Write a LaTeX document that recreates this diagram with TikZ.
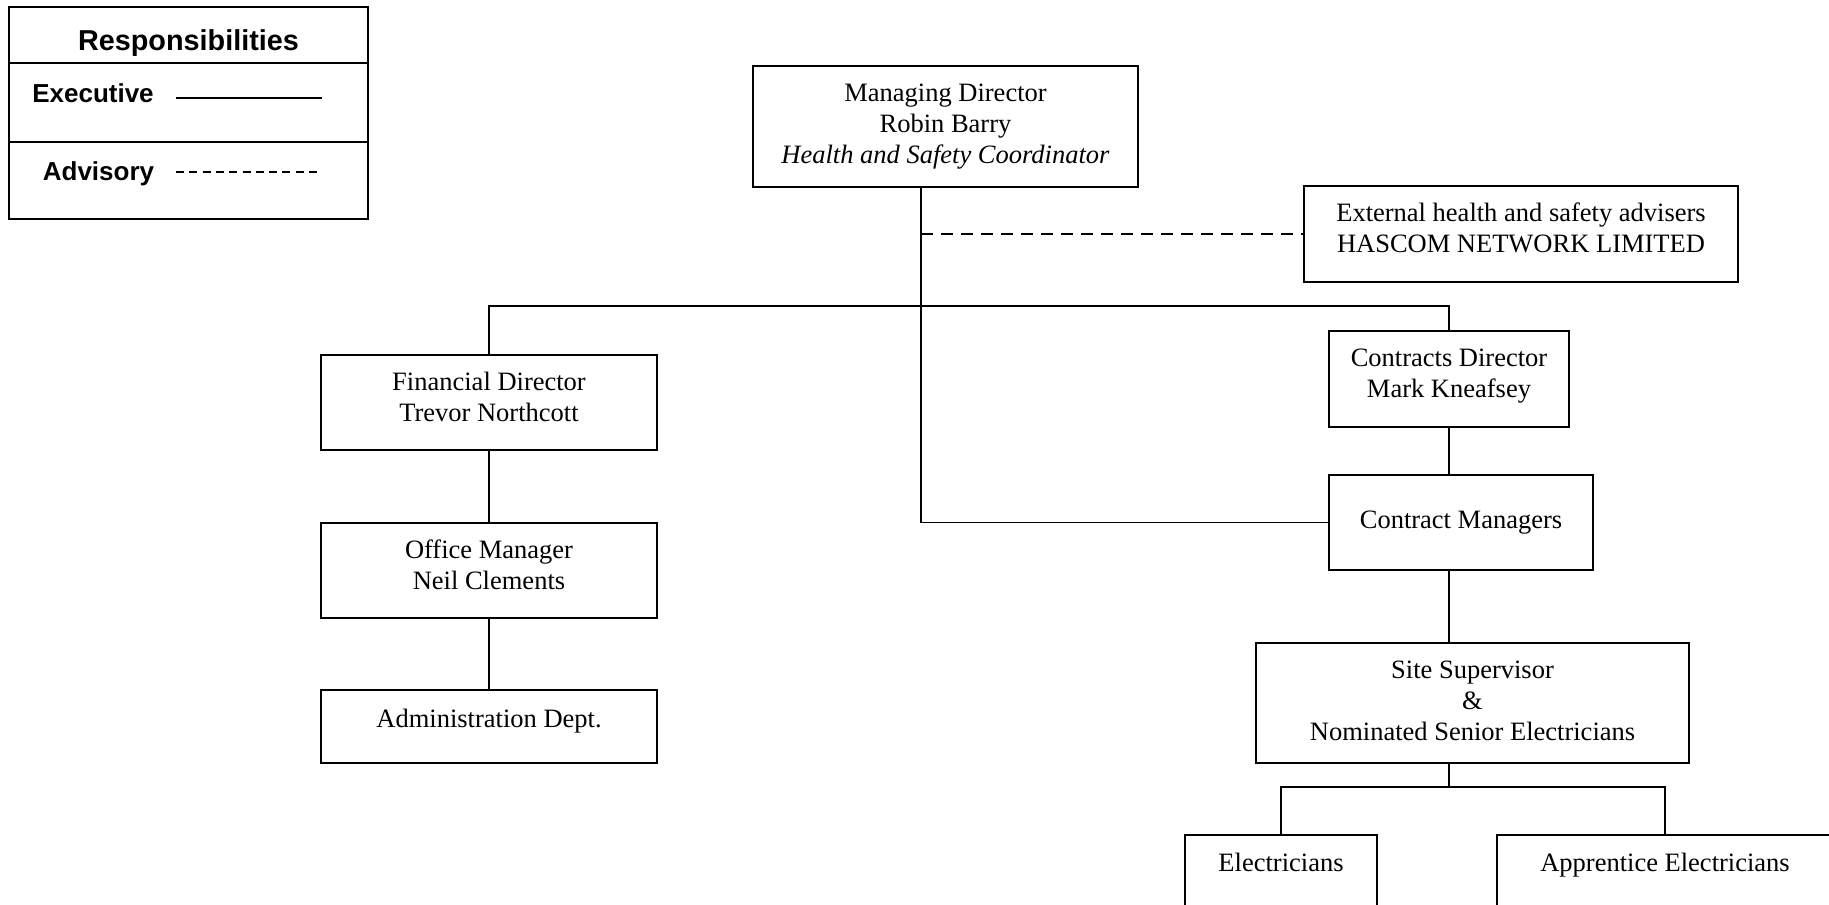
\documentclass[tikz,border=0pt]{standalone}
\usepackage{fontspec}
\setmainfont{Liberation Serif}
\newfontfamily\legendfont{Liberation Sans}
\usetikzlibrary{positioning}

\begin{document}
\begin{tikzpicture}[x=1pt, y=-1pt, line width=1.6pt,
    post/.style={draw, align=center, inner sep=0pt, font=\fontsize{26.5}{31}\selectfont},
    key/.style={anchor=base, font=\legendfont\bfseries\fontsize{26}{31}\selectfont},
    advisory/.style={dash pattern=on 12pt off 8pt}]
    \useasboundingbox (0,0) rectangle (1829,905);
    \clip (0,0) rectangle (1829,905);

    % Legend
    \draw (9,7) rectangle (368,219);
    \draw (9,63) -- (368,63);
    \draw (9,142) -- (368,142);
    \node[key, font=\legendfont\bfseries\fontsize{28.8}{34}\selectfont] (resp) at (188.5,50) {Responsibilities};
    \node[key] (exec) at (93,102) {Executive};
    \node[key] (adv) at (98.5,180) {Advisory};
    \draw (176,98) -- (322,98);
    \draw[dash pattern=on 8pt off 5.3pt] (176,172) -- (322,172);

    % Directors
    \node[post, minimum width=385pt, text height=97.5pt, text depth=23.5pt] (md) at (945.5,126.5)
      {Managing Director\\Robin Barry\\\textit{Health and Safety Coordinator}};
    \node[post, minimum width=434pt, text height=66.5pt, text depth=29.5pt] (ext) at (1521,234)
      {External health and safety advisers\\HASCOM NETWORK LIMITED};
    \node[post, minimum width=336pt, text height=66pt, text depth=29pt] (fd) at (489,402.5)
      {Financial Director\\Trevor Northcott};
    \node[post, minimum width=240pt, text height=66pt, text depth=30pt] (cd) at (1449,379)
      {Contracts Director\\Mark Kneafsey};

    % Office side
    \node[post, minimum width=336pt, text height=66pt, text depth=29pt] (om) at (489,570.5)
      {Office Manager\\Neil Clements};
    \node[post, minimum width=336pt, text height=37pt, text depth=36pt] (adm) at (489,726.5)
      {Administration Dept.};

    % Contracts side
    \node[post, minimum width=264pt, text height=53.5pt, text depth=41.5pt] (cm) at (1461,522.5)
      {Contract Managers};
    \node[post, minimum width=433pt, text height=97.5pt, text depth=22.5pt] (ss) at (1472.5,703)
      {Site Supervisor\\\&\\Nominated Senior Electricians};
    \foreach \n/\x/\w/\t in {el/1281/192/Electricians, ap/1665/336/Apprentice Electricians} {
      \node[post, minimum width=\w pt, text height=36pt, text depth=37pt] (\n) at (\x,871.5) {\t};
    }

    % Lines of responsibility
    \coordinate (trunk) at (921,306);
    \coordinate (fork) at (1449,787);
    \draw (md.south -| trunk) |- (cm.west);
    \draw (fd.north) |- (trunk) -| (cd.north);
    \draw[advisory] (trunk |- ext.west) -- (ext.west);
    \draw (fd) -- (om);
    \draw (om) -- (adm);
    \draw (cd.south) -- (cd.south |- cm.north);
    \draw (cd.south |- cm.south) -- (cd.south |- ss.north);
    \draw (cd.south |- ss.south) -- (fork);
    \draw (el.north) |- (fork) -| (ap.north);
  \end{tikzpicture}
\end{document}
